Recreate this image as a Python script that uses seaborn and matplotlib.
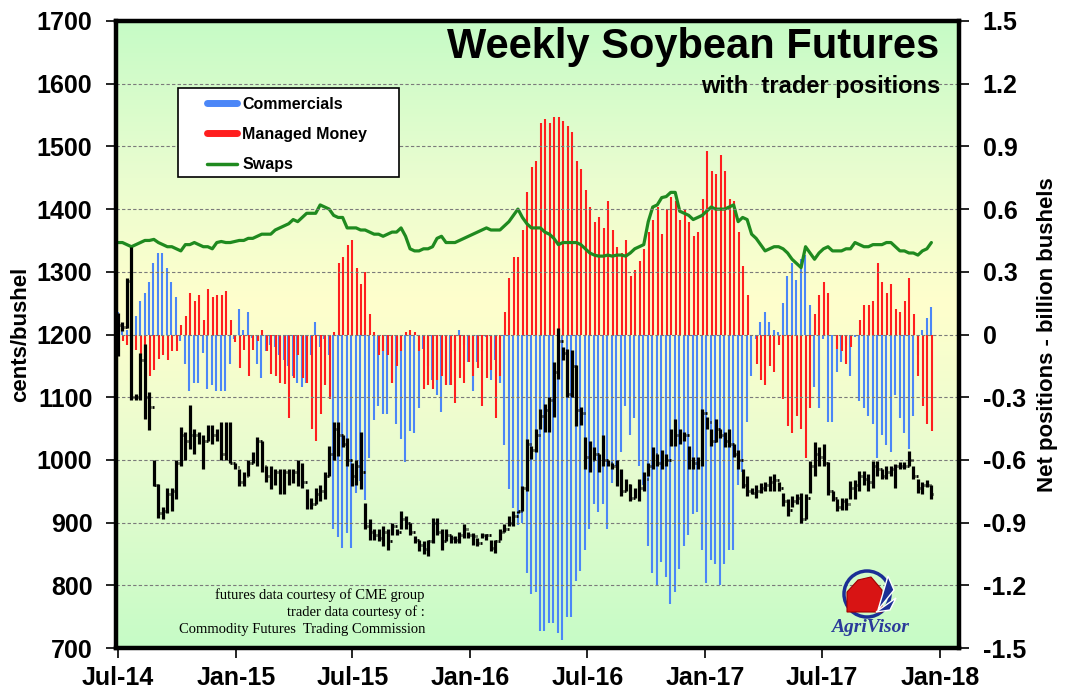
import numpy as np
import pandas as pd
import matplotlib
matplotlib.use("Agg")
import matplotlib.pyplot as plt
from matplotlib.colors import LinearSegmentedColormap
from matplotlib.patches import Circle, Polygon, Rectangle
from matplotlib.lines import Line2D
import seaborn as sns

sns.set_style("white")
plt.rcParams["font.family"] = ["Liberation Sans", "DejaVu Sans"]
plt.rcParams["font.weight"] = "bold"
for key in ["text.color", "axes.labelcolor", "xtick.color", "ytick.color"]:
    plt.rcParams[key] = "black"

# weekly data, Jul 2014 - Dec 2017
weeks = pd.date_range("2014-07-01", periods=182, freq="7D")

high = [1235, 1220, 1290, 1340, 1105, 1170, 1185, 1108, 1000, 962,
        925, 955, 955, 1000, 1052, 1045, 1087, 1050, 1045, 1039,
        1055, 1055, 1050, 1060, 1060, 1060, 995, 985, 980, 1000,
        1012, 1036, 1030, 990, 990, 985, 985, 985, 985, 985,
        1000, 995, 953, 940, 955, 960, 980, 1022, 1060, 1060,
        1040, 1035, 995, 1000, 1044, 932, 905, 890, 890, 894,
        889, 900, 890, 918, 910, 900, 878, 872, 870, 872,
        907, 907, 890, 890, 880, 878, 885, 897, 885, 883,
        875, 883, 882, 872, 872, 889, 897, 910, 918, 918,
        958, 1033, 1022, 1049, 1081, 1089, 1100, 1156, 1210, 1180,
        1177, 1175, 1151, 1085, 1036, 1030, 1020, 1010, 1040, 1000,
        995, 1000, 985, 970, 961, 955, 970, 980, 995, 1020,
        1010, 1015, 1010, 1049, 1065, 1050, 1045, 1022, 1005, 1005,
        1081, 1068, 1050, 1065, 1050, 1045, 1050, 1025, 1015, 985,
        975, 955, 960, 963, 965, 975, 978, 965, 948, 937,
        942, 945, 948, 945, 998, 1028, 1020, 1025, 996, 950,
        937, 940, 940, 966, 968, 983, 983, 978, 998, 998,
        985, 990, 990, 994, 996, 996, 1014, 990, 969, 965,
        968, 960]
low = [1165, 1205, 1210, 1095, 1095, 1095, 1065, 1047, 958, 908,
       905, 915, 918, 937, 990, 1000, 1017, 1010, 1025, 985,
       1030, 1025, 1030, 1000, 1000, 995, 985, 958, 958, 975,
       995, 990, 980, 965, 953, 960, 945, 945, 960, 963,
       958, 955, 921, 921, 930, 935, 937, 974, 1000, 1006,
       1020, 990, 958, 960, 953, 889, 873, 873, 870, 862,
       857, 880, 880, 889, 889, 880, 867, 854, 850, 846,
       867, 880, 857, 870, 868, 867, 868, 875, 875, 865,
       862, 875, 872, 854, 852, 873, 885, 894, 895, 915,
       918, 950, 1001, 1012, 1049, 1044, 1044, 1068, 1129, 1160,
       1100, 1100, 1054, 1055, 985, 980, 1000, 980, 990, 990,
       985, 958, 942, 950, 934, 940, 935, 950, 975, 985,
       990, 985, 990, 1022, 1022, 1025, 1030, 985, 985, 985,
       990, 1049, 1022, 1028, 1035, 1020, 1020, 1005, 985, 955,
       942, 945, 940, 948, 950, 950, 950, 950, 927, 910,
       925, 930, 900, 905, 948, 974, 990, 990, 944, 935,
       918, 920, 920, 937, 937, 950, 960, 950, 955, 975,
       970, 970, 975, 955, 985, 985, 990, 969, 948, 945,
       957, 937]
close = [1215, 1212, 1285, 1100, 1100, 1160, 1100, 1085, 960, 915,
         918, 945, 950, 995, 1040, 1030, 1040, 1040, 1030, 1030,
         1045, 1040, 1040, 1010, 1055, 995, 988, 965, 975, 995,
         1000, 1030, 990, 975, 970, 980, 975, 980, 975, 980,
         990, 965, 930, 930, 945, 950, 975, 1010, 1050, 1040,
         1025, 1000, 975, 990, 980, 895, 885, 880, 875, 885,
         870, 895, 885, 905, 900, 885, 872, 865, 858, 870,
         900, 885, 870, 880, 875, 872, 880, 890, 880, 878,
         868, 880, 880, 860, 870, 885, 890, 900, 910, 918,
         955, 1025, 1015, 1040, 1070, 1080, 1095, 1140, 1190, 1170,
         1105, 1150, 1080, 1075, 1005, 1000, 1010, 995, 1000, 995,
         990, 965, 950, 960, 940, 950, 955, 970, 990, 1010,
         995, 995, 1000, 1045, 1040, 1035, 1040, 990, 995, 1000,
         1075, 1060, 1030, 1050, 1040, 1030, 1025, 1010, 1000, 960,
         950, 948, 950, 955, 960, 965, 968, 955, 935, 920,
         935, 940, 905, 940, 990, 1010, 1005, 995, 950, 940,
         925, 935, 930, 955, 960, 975, 970, 965, 990, 985,
         975, 980, 985, 990, 990, 990, 1000, 975, 955, 960,
         960, 945]

# net positions, billion bushels
commercials = [0.11, 0.04, 0.02, 0.05, 0.09, 0.16, 0.20, 0.25, 0.34, 0.39,
               0.39, 0.32, 0.25, 0.18, -0.03, -0.14, -0.27, -0.23, -0.23, -0.09,
               -0.26, -0.24, -0.27, -0.27, -0.27, -0.14, -0.02, 0.12, 0.02, 0.11,
               -0.015, -0.14, -0.21, -0.08, -0.05, -0.06, -0.10, -0.12, -0.15, -0.20,
               -0.23, -0.25, -0.23, -0.10, 0.06, -0.06, -0.02, -0.10, -0.93, -0.97,
               -1.02, -0.95, -1.02, -0.76, -0.70, -0.79, -0.59, -0.41, -0.34, -0.38,
               -0.38, -0.23, -0.43, -0.50, -0.61, -0.46, -0.47, -0.35, -0.07, -0.15,
               -0.22, -0.29, -0.37, -0.24, -0.24, -0.08, 0.02, -0.05, -0.13, -0.27,
               -0.13, -0.08, -0.01, -0.22, -0.12, -0.23, -0.53, -0.74, -0.83, -0.91,
               -0.90, -1.14, -1.24, -1.23, -1.42, -1.42, -1.38, -1.38, -1.43, -1.46,
               -1.35, -1.35, -1.18, -1.13, -1.03, -0.93, -0.81, -0.85, -0.81, -0.93,
               -0.71, -0.63, -0.56, -0.34, -0.48, -0.40, -0.63, -0.72, -1.01, -1.14,
               -1.20, -1.09, -1.16, -1.29, -1.23, -1.12, -1.01, -0.96, -0.86, -0.85,
               -1.03, -1.19, -1.08, -1.10, -1.20, -1.10, -1.03, -1.03, -0.72, -0.66,
               -0.42, -0.20, -0.02, 0.06, 0.11, 0.06, 0.02, 0.01, 0.15, 0.28,
               0.34, 0.26, 0.36, 0.38, 0.14, -0.25, -0.35, -0.02, -0.42, -0.42,
               -0.18, -0.13, -0.05, -0.20, -0.01, -0.32, -0.35, -0.39, -0.43, -0.59,
               -0.48, -0.53, -0.56, -0.29, -0.40, -0.47, -0.55, -0.39, -0.10, 0.02,
               0.08, 0.13]
managed_money = [0.02, -0.03, -0.05, -0.07, -0.075, -0.10, -0.13, -0.20, -0.17, -0.115,
                 -0.10, -0.12, -0.08, -0.08, 0.045, 0.09, 0.20, 0.16, 0.19, 0.07,
                 0.22, 0.18, 0.19, 0.19, 0.21, 0.07, -0.035, -0.16, -0.075, -0.20,
                 -0.075, -0.03, 0.02, -0.08, -0.19, -0.20, -0.23, -0.235, -0.40, -0.21,
                 -0.10, -0.21, -0.23, -0.45, -0.51, -0.38, -0.24, -0.31, 0.01, 0.34,
                 0.37, 0.43, 0.45, 0.32, 0.24, 0.30, 0.10, 0.01, -0.10, -0.08,
                 -0.10, -0.23, -0.15, -0.08, 0.01, 0.02, 0.01, -0.08, -0.26, -0.24,
                 -0.26, -0.22, -0.20, -0.24, -0.24, -0.33, -0.21, -0.23, -0.13, -0.20,
                 -0.16, -0.34, -0.21, -0.17, -0.40, -0.20, 0.11, 0.27, 0.37, 0.37,
                 0.50, 0.68, 0.80, 0.83, 1.01, 1.03, 1.01, 1.04, 1.04, 1.02,
                 1.00, 0.97, 0.83, 0.79, 0.69, 0.61, 0.54, 0.56, 0.51, 0.64,
                 0.50, 0.42, 0.39, 0.45, 0.28, 0.31, 0.35, 0.41, 0.49, 0.55,
                 0.61, 0.48, 0.60, 0.66, 0.64, 0.55, 0.60, 0.54, 0.47, 0.49,
                 0.65, 0.88, 0.78, 0.77, 0.86, 0.78, 0.65, 0.64, 0.49, 0.33,
                 0.19, 0.0, -0.14, -0.22, -0.24, -0.15, -0.18, -0.05, -0.31, -0.44,
                 -0.47, -0.39, -0.45, -0.59, -0.35, 0.10, 0.19, 0.25, 0.20, 0.0,
                 -0.07, -0.08, -0.14, -0.06, 0.0, 0.07, 0.14, 0.14, 0.16, 0.34,
                 0.25, 0.20, 0.24, 0.12, 0.11, 0.16, 0.27, 0.10, -0.20, -0.34,
                 -0.43, -0.46]
swaps = [0.44, 0.44, 0.43, 0.42, 0.43, 0.44, 0.45, 0.45, 0.455, 0.44,
         0.43, 0.42, 0.42, 0.41, 0.40, 0.43, 0.43, 0.44, 0.43, 0.42,
         0.42, 0.41, 0.44, 0.445, 0.44, 0.44, 0.445, 0.45, 0.45, 0.46,
         0.46, 0.47, 0.48, 0.48, 0.48, 0.50, 0.51, 0.52, 0.53, 0.55,
         0.54, 0.56, 0.58, 0.58, 0.58, 0.62, 0.61, 0.60, 0.57, 0.56,
         0.56, 0.51, 0.51, 0.51, 0.50, 0.50, 0.49, 0.48, 0.48, 0.47,
         0.48, 0.49, 0.49, 0.51, 0.47, 0.41, 0.40, 0.40, 0.41, 0.41,
         0.42, 0.46, 0.47, 0.44, 0.44, 0.44, 0.45, 0.46, 0.47, 0.48,
         0.49, 0.50, 0.51, 0.50, 0.50, 0.50, 0.52, 0.54, 0.57, 0.60,
         0.56, 0.53, 0.51, 0.51, 0.51, 0.49, 0.48, 0.46, 0.43, 0.44,
         0.44, 0.44, 0.44, 0.43, 0.41, 0.39, 0.38, 0.375, 0.375, 0.38,
         0.375, 0.38, 0.38, 0.375, 0.39, 0.41, 0.42, 0.43, 0.54, 0.61,
         0.62, 0.655, 0.66, 0.68, 0.68, 0.59, 0.58, 0.57, 0.55, 0.56,
         0.57, 0.59, 0.61, 0.60, 0.60, 0.60, 0.61, 0.62, 0.54, 0.56,
         0.55, 0.48, 0.46, 0.43, 0.40, 0.41, 0.42, 0.42, 0.41, 0.39,
         0.36, 0.34, 0.32, 0.42, 0.39, 0.36, 0.39, 0.41, 0.42, 0.40,
         0.40, 0.40, 0.41, 0.41, 0.44, 0.43, 0.42, 0.42, 0.43, 0.43,
         0.43, 0.44, 0.44, 0.42, 0.40, 0.40, 0.39, 0.39, 0.38, 0.40,
         0.41, 0.44]

xtick_dates = ["2014-07-01", "2015-01-01", "2015-07-01", "2016-01-01",
               "2016-07-01", "2017-01-01", "2017-07-01", "2018-01-01"]
xtick_labels = ["Jul-14", "Jan-15", "Jul-15", "Jan-16",
                "Jul-16", "Jan-17", "Jul-17", "Jan-18"]
left_ticks = list(range(700, 1800, 100))
right_ticks = [-1.5, -1.2, -0.9, -0.6, -0.3, 0, 0.3, 0.6, 0.9, 1.2, 1.5]
right_labels = ["-1.5", "-1.2", "-0.9", "-0.6", "-0.3", "0",
                "0.3", "0.6", "0.9", "1.2", "1.5"]

df = pd.DataFrame({"week": weeks, "high": high, "low": low, "close": close,
                   "comm": commercials, "mm": managed_money, "swaps": swaps})
df["open"] = df["close"].shift(1).fillna(df["close"])

BLUE = "#4b86f7"
RED = "#ff1e1e"
GREEN = "#1f8a1f"

fig = plt.figure(figsize=(10.7, 6.91), dpi=100)
rect = [116 / 1070, 1 - 648 / 691, (959 - 116) / 1070, (648 - 21) / 691]

# gradient background
bg = fig.add_axes(rect, zorder=-5)
grad = np.linspace(0, 1, 256).reshape(-1, 1)
cmap = LinearSegmentedColormap.from_list(
    "bg", [(0, "#c6fbc6"), (0.3, "#e8fcd0"), (0.55, "#ffffcc"), (0.75, "#eafdd0"), (1, "#c6fbc6")])
bg.imshow(grad, aspect="auto", cmap=cmap, origin="lower", extent=[0, 1, 0, 1])
bg.axis("off")

ax = fig.add_axes(rect)
ax2 = ax.twinx()
ax.set_zorder(ax2.get_zorder() + 1)
ax.patch.set_visible(False)
ax2.patch.set_visible(False)

# trader positions
off = pd.Timedelta(days=0.6)
ax2.vlines(df["week"] - off, 0, df["comm"], color=BLUE, lw=1.5)
ax2.vlines(df["week"] + off, 0, df["mm"], color=RED, lw=1.5)
sns.lineplot(data=df, x="week", y="swaps", ax=ax2, color=GREEN, lw=2.3)

# weekly price bars
tick = pd.Timedelta(days=2.6)
ax.yaxis.grid(True, linestyle=(0, (3, 2)), color="#7a7a7a", lw=0.8)
ax.set_axisbelow(True)
ax.vlines(df["week"], df["low"], df["high"], color="black", lw=2.3)
ax.hlines(df["close"], df["week"], df["week"] + tick, color="black", lw=2.0)
ax.hlines(df["open"], df["week"] - tick, df["week"], color="black", lw=2.0)

ax.set_xlim(pd.Timestamp("2014-06-28"), pd.Timestamp("2018-01-31"))
ax.set_ylim(700, 1700)
ax2.set_ylim(-1.5, 1.5)

ax.set_xticks(pd.to_datetime(xtick_dates))
ax.set_xticklabels(xtick_labels)
ax.set_yticks(left_ticks)
ax.set_yticklabels([str(v) for v in left_ticks])
ax2.set_yticks(right_ticks)
ax2.set_yticklabels(right_labels)

ax.tick_params(axis="both", direction="out", length=7, width=1.2, labelsize=18,
               bottom=True, left=True)
ax.tick_params(axis="y", pad=10)
ax.tick_params(axis="x", pad=6)
ax2.tick_params(axis="y", direction="out", length=7, width=1.2, labelsize=18, pad=10, right=True)

for s in ax.spines.values():
    s.set_linewidth(3.2)
    s.set_color("black")
for s in ax2.spines.values():
    s.set_visible(False)

ax.set_xlabel("")
ax2.set_xlabel("")
ax.set_ylabel("cents/bushel", fontsize=16, fontweight="bold", labelpad=4)
ax2.set_ylabel("Net positions - billion bushels", fontsize=16, fontweight="bold", labelpad=8)

# titles
ax.text(0.976, 0.958, "Weekly Soybean Futures", transform=ax.transAxes,
        ha="right", va="center", fontsize=30, fontweight="bold")
ax.text(0.978, 0.895, "with  trader positions", transform=ax.transAxes,
        ha="right", va="center", fontsize=17, fontweight="bold")

# legend: white box with entries inset from its left edge
ax.add_patch(Rectangle((0.073, 0.751), 0.263, 0.142, transform=ax.transAxes,
                       fc="white", ec="black", lw=1.2, zorder=4))
handles = [Line2D([], [], color=BLUE, lw=5),
           Line2D([], [], color=RED, lw=5),
           Line2D([], [], color=GREEN, lw=2.5)]
leg = ax.legend(handles, ["Commercials", "Managed Money", "Swaps"],
                loc="upper left", bbox_to_anchor=(0.108, 0.879),
                frameon=False, prop={"weight": "bold", "size": 11.5},
                handlelength=1.9, handletextpad=0.3, labelspacing=0.95,
                borderpad=0, borderaxespad=0)
leg.set_zorder(6)

# source notes
src = ["futures data courtesy of CME group", "trader data courtesy of :",
       "Commodity Futures  Trading Commission"]
for txt, yy in zip(src, [0.0845, 0.0574, 0.0303]):
    ax.text(0.3665, yy, txt, transform=ax.transAxes, ha="right", va="center",
            fontsize=10.5, fontweight="normal", family="Liberation Serif")

# AgriVisor logo
lax = fig.add_axes([838 / 1070, 1 - 620 / 691, 60 / 1070, 52 / 691], zorder=10)
lax.set_xlim(0, 60)
lax.set_ylim(0, 52)
lax.axis("off")
lax.add_patch(Circle((29, 26), 23, fill=False, ec="#1b2f95", lw=2.5))
lax.add_patch(Polygon([(9, 8), (9, 28), (20, 40), (33, 43), (44, 30), (44, 8)],
                      closed=True, fc="#d81414", ec="#a00000", lw=0.8))
lax.add_patch(Polygon([(40, 10), (50, 44), (56, 30)], closed=True, fc="#1b2f95"))
lax.add_patch(Polygon([(38, 8), (58, 22), (52, 10)], closed=True, fc="#1b2f95"))
fig.text(870 / 1070, 1 - 628 / 691, "AgriVisor", ha="center", va="center",
         fontsize=14, fontweight="bold", style="italic", color="#2a3a9a",
         family="Liberation Serif")

fig.savefig("out.png", dpi=100)
